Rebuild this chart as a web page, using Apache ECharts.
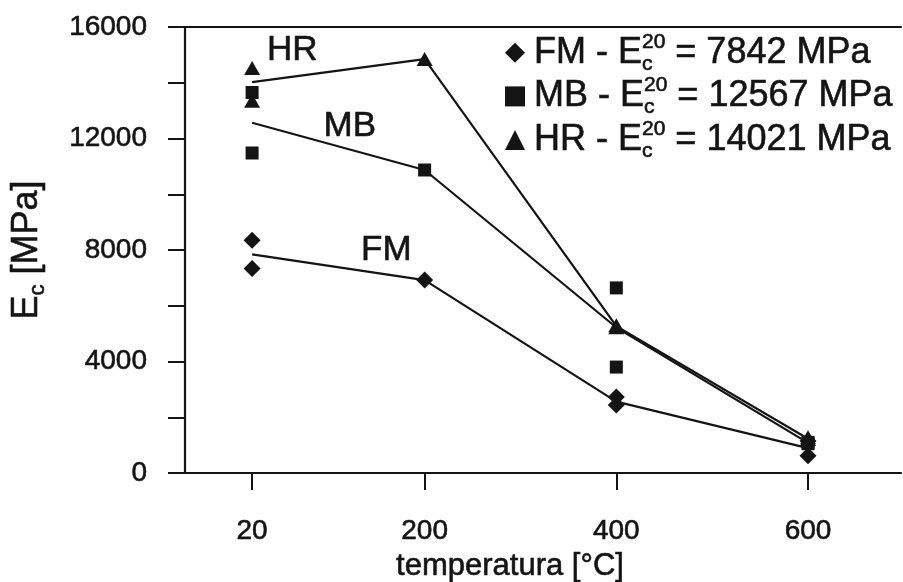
<!DOCTYPE html>
<html>
<head>
<meta charset="utf-8">
<script src="https://cdn.jsdelivr.net/npm/echarts@6/dist/echarts.min.js"></script>
<style>
  html, body { margin: 0; padding: 0; background: #ffffff; }
  #chart { width: 903px; height: 582px; }
</style>
</head>
<body>
<div id="chart"></div>
<script>
// Test temperatures [°C] and their tick labels
const temperatures = [20, 200, 400, 600];
const tickLabels = ['20', '200', '400', '600'];

// Individual specimen results, [temperature, Ec in MPa]
const fmPoints = [[20, 8350], [20, 7340], [200, 6920], [400, 2730], [400, 2440], [600, 1150], [600, 620]];
const mbPoints = [[20, 13650], [20, 11480], [200, 10870], [400, 6640], [400, 3800], [600, 1100], [600, 1050]];
const hrPoints = [[20, 14530], [20, 13350], [200, 14850], [400, 5300], [400, 5230], [600, 1280], [600, 1220]];

// Mean modulus at each temperature (first value is Ec at 20 °C)
const fmMean = [7842, 6920, 2560, 890];
const mbMean = [12567, 10870, 5220, 1080];
const hrMean = [14021, 14850, 5270, 1230];

const INK = '#141414';
const FONT = '"Liberation Sans", Arial, Helvetica, sans-serif';
// a hairline outline in the text colour gives the type a slightly heavier weight
const heavy = { textBorderColor: INK, textBorderWidth: 0.6 };

const chart = echarts.init(document.getElementById('chart'), null, { renderer: 'canvas' });

function pairs(means) {
  return temperatures.map((t, i) => [t, means[i]]);
}

const legendValue = { FM: fmMean[0], MB: mbMean[0], HR: hrMean[0] };

function meanLine(name, means, tag, tagAt) {
  return {
    name: name + ' mean',
    type: 'line',
    data: pairs(means),
    symbol: 'none',
    lineStyle: { color: INK, width: 2.2 },
    z: 2,
    silent: true,
    markPoint: {
      symbol: 'circle',
      symbolSize: 0,
      silent: true,
      label: Object.assign({
        show: true,
        formatter: tag,
        color: INK,
        fontFamily: FONT,
        fontSize: 35,
        position: 'inside'
      }, heavy),
      data: [{ coord: tagAt }]
    }
  };
}

function points(name, data, symbol, size) {
  return {
    name: name,
    type: 'scatter',
    data: data,
    symbol: symbol,
    symbolSize: size,
    itemStyle: { color: INK, opacity: 1 },
    z: 3
  };
}

const subSup = {
  n: Object.assign({ fontSize: 36, fontFamily: FONT, color: INK, lineHeight: 43 }, heavy),
  sub: Object.assign({ fontSize: 21, fontFamily: FONT, color: INK, width: 0, lineHeight: 15, verticalAlign: 'bottom' }, heavy),
  sup: Object.assign({ fontSize: 21, fontFamily: FONT, color: INK, lineHeight: 18, verticalAlign: 'top' }, heavy)
};

chart.setOption({
  backgroundColor: '#ffffff',
  animation: false,
  grid: { left: 185, right: 2, top: 27, bottom: 109, containLabel: false, outerBoundsMode: 'none' },
  xAxis: [{
    type: 'value',
    min: -50,
    max: 697,
    name: 'temperatura [°C]',
    nameLocation: 'middle',
    nameGap: 67,
    nameTextStyle: Object.assign({ color: INK, fontFamily: FONT, fontSize: 31, padding: [0, 66, 0, 0] }, heavy),
    axisLine: { onZero: false, lineStyle: { color: INK, width: 2.2 } },
    axisTick: { show: true, inside: false, length: 17, customValues: temperatures, lineStyle: { color: INK, width: 2 } },
    axisLabel: Object.assign({
      customValues: temperatures,
      formatter: v => tickLabels[temperatures.indexOf(v)],
      color: INK, fontFamily: FONT, fontSize: 28, margin: 44
    }, heavy),
    splitLine: { show: false }
  }, {
    type: 'value',
    position: 'top',
    min: -50,
    max: 697,
    axisLine: { show: true, onZero: false, lineStyle: { color: INK, width: 2.2 } },
    axisTick: { show: false },
    axisLabel: { show: false },
    splitLine: { show: false }
  }],
  yAxis: {
    type: 'value',
    min: 0,
    max: 16000,
    interval: 2000,
    name: 'E{sub|c} [MPa]',
    nameLocation: 'middle',
    nameGap: 136,
    nameRotate: 90,
    nameTextStyle: Object.assign({
      color: INK, fontFamily: FONT, fontSize: 36, lineHeight: 44,
      rich: {
        sub: Object.assign({ fontSize: 22, fontFamily: FONT, color: INK, verticalAlign: 'bottom', lineHeight: 20 }, heavy)
      }
    }, heavy),
    axisLine: { show: true, onZero: false, lineStyle: { color: INK, width: 2.2 } },
    axisTick: { show: true, inside: false, length: 17, lineStyle: { color: INK, width: 2 } },
    axisLabel: Object.assign({
      formatter: v => (v % 4000 === 0 ? String(v) : ''),
      color: INK, fontFamily: FONT, fontSize: 28, margin: 38
    }, heavy),
    splitLine: { show: false }
  },
  legend: {
    orient: 'vertical',
    left: 500,
    top: 26,
    itemWidth: 20,
    itemHeight: 20,
    itemGap: 0,
    selectedMode: false,
    data: [
      { name: 'FM', icon: 'diamond' },
      { name: 'MB', icon: 'rect' },
      { name: 'HR', icon: 'triangle' }
    ],
    formatter: name => '{n|' + name + ' - E}{sub|c}{sup|20}{n| = ' + legendValue[name] + ' MPa}',
    textStyle: { rich: subSup, padding: [0, 0, 0, 4] }
  },
  series: [
    meanLine('FM', fmMean, 'FM', [160, 8000]),
    meanLine('MB', mbMean, 'MB', [122, 12450]),
    meanLine('HR', hrMean, 'HR', [62, 15175]),
    points('FM', fmPoints, 'diamond', 17),
    points('MB', mbPoints, 'rect', 13),
    points('HR', hrPoints, 'triangle', [16, 14])
  ]
});
</script>
</body>
</html>
